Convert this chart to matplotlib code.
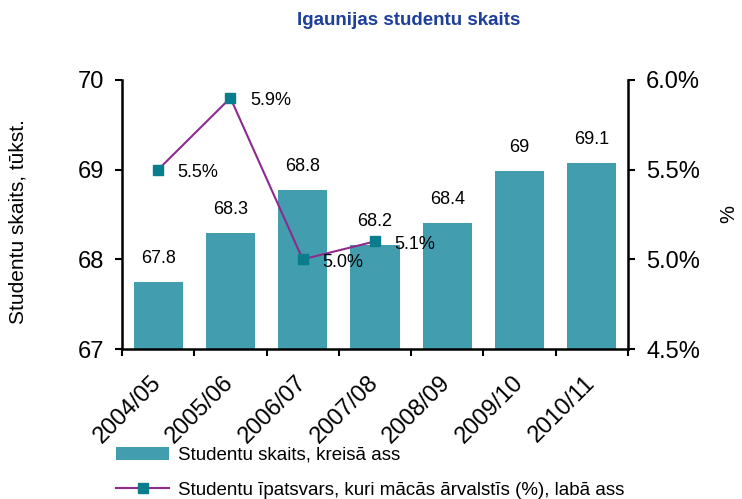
import matplotlib.pyplot as plt
import numpy as np

plt.rcParams['font.family'] = ['Liberation Sans', 'DejaVu Sans']

years = ['2004/05', '2005/06', '2006/07', '2007/08', '2008/09', '2009/10', '2010/11']
students = [67.75, 68.29, 68.77, 68.16, 68.4, 68.98, 69.07]  # tūkst.
student_labels = ['67.8', '68.3', '68.8', '68.2', '68.4', '69', '69.1']
abroad_share = [5.5, 5.9, 5.0, 5.1]  # % only first four years
abroad_labels = ['5.5%', '5.9%', '5.0%', '5.1%']

bar_color = '#429DAE'
line_color = '#8E2A8E'
marker_color = '#0A7D8C'

fig = plt.figure(figsize=(7.42, 4.99), dpi=100)
ax = fig.add_axes([0.1644, 0.3006, 0.682, 0.5391])
x = np.arange(len(years))

bars = ax.bar(x, np.array(students) - 67, bottom=67, width=0.68, color=bar_color,
              label='Studentu skaits, kreisā ass', zorder=2)
for xi, v, lab in zip(x, students, student_labels):
    ax.annotate(lab, (xi, v), xytext=(0, 17), textcoords='offset points',
                ha='center', va='center', fontsize=13)

ax.set_xlim(-0.5, 6.5)
ax.set_ylim(67, 70)
ax.set_yticks([67, 68, 69, 70])
ax.set_xticks(x)
ax.set_xticklabels(years, rotation=45, ha='right', va='center', rotation_mode='anchor', fontsize=17)
ax.set_xticks(np.arange(-0.5, 7, 1), minor=True)
ax.tick_params(axis='x', which='major', length=0, pad=22)
ax.tick_params(axis='x', which='minor', length=5, width=1.5, direction='out')
ax.tick_params(axis='y', labelsize=17, length=5, width=1.5, direction='out', pad=8)
for s in ['top', 'right']:
    ax.spines[s].set_visible(False)
for s in ['left', 'bottom']:
    ax.spines[s].set_linewidth(1.8)

ax2 = ax.twinx()
line, = ax2.plot(x[:len(abroad_share)], abroad_share, color=line_color, lw=1.5,
                 marker='s', markersize=7, markerfacecolor=marker_color,
                 markeredgecolor=marker_color,
                 label='Studentu īpatsvars, kuri mācās ārvalstīs (%), labā ass', zorder=3)
for xi, v, lab in zip(x, abroad_share, abroad_labels):
    ax2.annotate(lab, (xi, v), xytext=(14, -2), textcoords='offset points',
                 ha='left', va='center', fontsize=13)
ax2.set_ylim(4.5, 6.0)
ax2.set_yticks([4.5, 5.0, 5.5, 6.0])
ax2.set_yticklabels(['4.5%', '5.0%', '5.5%', '6.0%'])
ax2.tick_params(axis='y', labelsize=17, length=5, width=1.5, direction='out', pad=8)
for s in ['top', 'left', 'bottom']:
    ax2.spines[s].set_visible(False)
ax2.spines['right'].set_linewidth(1.8)

fig.text(0.551, 0.958, 'Igaunijas studentu skaits', ha='center', va='center',
         fontsize=13.5, fontweight='bold', color='#1E3F9A',
         family=['Liberation Sans Narrow', 'Liberation Sans'])
fig.text(0.024, 0.555, 'Studentu skaits, tūkst.', rotation=90, ha='center', va='center', fontsize=15)
fig.text(0.982, 0.571, '%', rotation=90, ha='center', va='center', fontsize=14.5)

fig.legend(handles=[bars, line], loc='upper left', bbox_to_anchor=(0.157, 0.105),
           frameon=False, fontsize=13.5, handlelength=2.8, handletextpad=0.5,
           labelspacing=0.95, borderpad=0, borderaxespad=0)

fig.savefig('out.png', dpi=100)
